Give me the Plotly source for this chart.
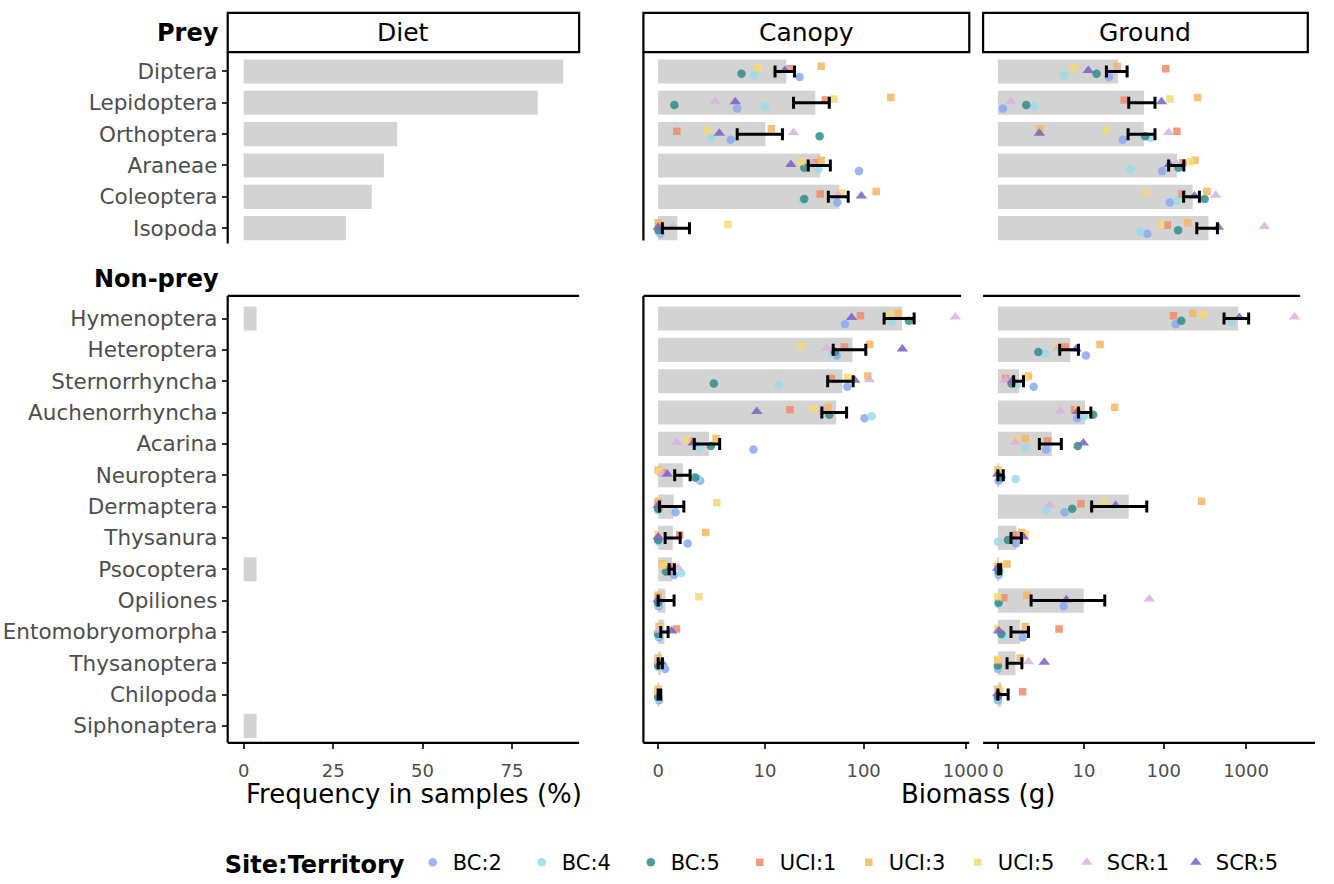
import numpy as np
import plotly.graph_objects as go

W, H = 1334, 884
FONT = "DejaVu Sans"

# ---------------- data ----------------
prey = ["Diptera", "Lepidoptera", "Orthoptera", "Araneae", "Coleoptera", "Isopoda"]
nonprey = ["Hymenoptera", "Heteroptera", "Sternorrhyncha", "Auchenorrhyncha", "Acarina",
           "Neuroptera", "Dermaptera", "Thysanura", "Psocoptera", "Opiliones",
           "Entomobryomorpha", "Thysanoptera", "Chilopoda", "Siphonaptera"]

diet_prey = [89.3, 82.2, 42.9, 39.2, 35.8, 28.6]
diet_nonprey = [3.6, None, None, None, None, None, None, None, 3.6, None, None, None, None, 3.6]

groups = ["BC:2", "BC:4", "BC:5", "UCI:1", "UCI:3", "UCI:5", "SCR:1", "SCR:5"]
group_colors = ["#86A8F2", "#97DCE9", "#2F8C86", "#EF8A6A", "#F4B562", "#F7D872", "#DAB0DE", "#7A5EC2"]
group_symbols = ["circle", "circle", "circle", "square", "square", "square", "triangle-up", "triangle-up"]
group_sizes = [8.5, 8.5, 8.5, 7.5, 7.5, 7.5, 10, 10]
group_offsets = [0.18, 0.12, 0.07, -0.09, -0.17, -0.12, -0.05, -0.03]

biomass_ticks = [0, 10, 100, 1000]
diet_ticks = [0, 25, 50, 75]

# Canopy, prey (grams)
canopy_prey_bar = [16.8, 33.1, 10.1, 37.1, 57.6, 0.54]
canopy_prey_lo = [12.8, 19.9, 4.9, 28.1, 44.7, 0.10]
canopy_prey_hi = [20.4, 45.7, 15.3, 46.8, 70.4, 1.02]
canopy_prey_pts = {
    "BC:2": [23.0, 4.9, 4.1, 90, 55, 0.05],
    "BC:4": [7.6, 10.0, 2.3, 35.7, 24.5, 0.01],
    "BC:5": [5.5, 0.44, 36.6, 25.6, 25.6, 0.01],
    "UCI:1": [18.2, 41.8, 0.52, 32.6, 37.1, 0.02],
    "UCI:3": [37.9, 185, 11.7, 37.9, 133, 0.0],
    "UCI:5": [8.4, 50.8, 2.06, 23.8, 60.6, 3.8],
    "SCR:1": [17, 2.6, 19.9, 31, 56, 0.38],
    "SCR:5": [16.2, 4.65, 2.95, 18.7, 95, 0.0],
}

# Ground, prey (grams)
ground_prey_bar = [27.2, 57.6, 57.1, 145, 226, 351]
ground_prey_lo = [19.5, 37.2, 36.5, 115, 175, 253]
ground_prey_hi = [35.5, 78.3, 78.3, 176, 272, 450]
ground_prey_pts = {
    "BC:2": [21.0, 0.15, 31.4, 96, 119, 63],
    "BC:4": [5.3, 1.76, 68.2, 39, 147, 51.6],
    "BC:5": [14.6, 1.20, 59.3, 152, 315, 150],
    "UCI:1": [106, 32.6, 145, 172, 168, 111],
    "UCI:3": [26.7, 259, 2.23, 241, 336, 197],
    "UCI:5": [7.3, 119, 19.5, 216, 61, 92],
    "SCR:1": [27.2, 0.44, 115, 143, 430, 1668],
    "SCR:5": [11.4, 94, 2.17, 117, 237, 463],
}

# Canopy, non-prey (grams)
canopy_np_bar = [238, 77.6, 61.7, 53.5, 2.13, 0.74, 0.42, 0.39, 0.37, 0.18, 0.15, 0.06, 0.01, None]
canopy_np_lo = [159, 50, 44, 38.5, 1.25, 0.45, 0.03, 0.17, 0.28, 0.0, 0.06, 0.0, 0.0, None]
canopy_np_hi = [313, 105, 78.8, 67.9, 2.98, 1.05, 0.78, 0.64, 0.44, 0.43, 0.25, 0.1, 0.06, None]
canopy_np_pts = {
    "BC:2": [65.4, 54, 69, 102, 7.5, 1.57, 0.48, 0.94, 0.43, 0.01, 0.02, 0.17, 0.02, None],
    "BC:4": [190, 49, 14.1, 120, 1.51, 1.45, 0.0, 0.01, 0.68, 0.0, 0.0, 0.0, 0.0, None],
    "BC:5": [278, 52, 2.49, 45.7, 2.27, 1.30, 0.0, 0.0, 0.19, 0.0, 0.0, 0.0, 0.0, None],
    "UCI:1": [93, 64.5, 47.9, 18.3, 1.14, 0.11, 0.0, 0.62, 0.3, 0.0, 0.51, 0.0, 0.0, None],
    "UCI:3": [220, 115, 110, 44.7, 2.67, 0.0, 0.0, 1.91, 0.1, 0.0, 0.02, 0.0, 0.0, None],
    "UCI:5": [179, 23.8, 69.5, 31.9, 0.9, 0.03, 2.73, 0.0, 0.12, 1.49, 0.05, 0.0, 0.0, None],
    "SCR:1": [790, 43, 114, 40, 0.51, 0.1, 0.0, 0.0, 0.56, 0.0, 0.0, 0.0, None, None],
    "SCR:5": [76, 240, 81.7, 8.16, 1.2, 0.23, 0.0, 0.0, 0.3, 0.0, 0.35, 0.08, None, None],
}

# Ground, non-prey (grams)
ground_np_bar = [802, 6.49, 0.80, 10.3, 3.49, 0.02, 37.2, 0.67, 0.01, 9.9, 0.86, 0.63, 0.1, None]
ground_np_lo = [541, 4.59, 0.55, 8.41, 2.17, 0.0, 12.6, 0.44, 0.02, 1.52, 0.44, 0.29, 0.0, None]
ground_np_hi = [1075, 8.41, 1.04, 12.3, 4.85, 0.16, 62.1, 0.92, 0.08, 18.6, 1.34, 0.95, 0.33, None]
ground_np_pts = {
    "BC:2": [140, 10.6, 1.71, 8.08, 2.84, 0.02, 5.41, 0.65, 0.02, 5.24, 1.01, 0.0, 0.0, None],
    "BC:4": [668, 2.70, 0.70, 10.1, 1.16, 0.64, 2.88, 0.0, 0.02, 0.02, 0.16, 0.0, 0.0, None],
    "BC:5": [164, 2.08, 0.46, 13.2, 8.24, 0.1, 6.91, 0.32, 0.02, 0.02, 0.1, 0.0, 0.0, None],
    "UCI:1": [132, 5.53, 0.24, 7.44, 2.98, 0.0, 9.13, 0.63, 0.0, 0.18, 4.49, 0.0, 0.99, None],
    "UCI:3": [226, 16.2, 1.34, 24.8, 1.14, 0.0, 290, 0.95, 0.29, 1.24, 1.14, 0.86, 0.0, None],
    "UCI:5": [303, 4.10, 1.14, 8.41, 0.66, 0.0, 18.2, 1.14, 0.05, 0.0, 0.0, 0.0, 0.05, None],
    "SCR:1": [3872, 4.24, 0.24, 4.69, 0.63, 0.0, 3.25, 0.86, 0.0, 66.9, 0.0, 1.34, 0.0, None],
    "SCR:5": [832, 7.83, 0.51, 8.24, 9.8, 0.0, 25.5, 1.04, 0.0, 5.71, 0.03, 2.64, 0.0, None],
}


# ---------------- helpers ----------------
def T(v):
    """log10(x + 1) transform used by the biomass axes."""
    return None if v is None else float(np.log10(v + 1.0))


def px(x):
    return x / W


def py(y):
    return 1 - y / H


BAR_W = 0.77
BAR_COLOR = "#D3D3D3"
TICK_COLOR = "#4D4D4D"

fig = go.Figure()

# panel geometry (pixels)
X_DIET = (231.0, 587.5)
X_CAN = (652.7, 983.3)
X_GRO = (997.3, 1326.7)
Y_TOP = (52.7, 249.5)
Y_BOT = (299.0, 750.5)

axes = {
    "1": (X_DIET, Y_TOP, [-4.47, 93.77], [5.6, -0.616]),
    "2": (X_CAN, Y_TOP, [-0.144, 3.035], [5.6, -0.616]),
    "3": (X_GRO, Y_TOP, [-0.179, 3.747], [5.6, -0.616]),
    "4": (X_DIET, Y_BOT, [-4.47, 93.77], [13.54, -0.72]),
    "5": (X_CAN, Y_BOT, [-0.144, 3.035], [13.54, -0.72]),
    "6": (X_GRO, Y_BOT, [-0.179, 3.747], [13.54, -0.72]),
}


def ax_ids(k):
    return ("x" if k == "1" else "x" + k), ("y" if k == "1" else "y" + k)


# Diet bars
for k, cats, vals in [("1", prey, diet_prey), ("4", nonprey, diet_nonprey)]:
    xa, ya = ax_ids(k)
    fig.add_trace(go.Bar(x=vals, y=list(range(len(cats))), orientation="h", width=BAR_W,
                         marker=dict(color=BAR_COLOR, line=dict(width=0)),
                         xaxis=xa, yaxis=ya, showlegend=False, hoverinfo="skip"))

panels = [
    ("2", prey, canopy_prey_bar, canopy_prey_lo, canopy_prey_hi, canopy_prey_pts),
    ("3", prey, ground_prey_bar, ground_prey_lo, ground_prey_hi, ground_prey_pts),
    ("5", nonprey, canopy_np_bar, canopy_np_lo, canopy_np_hi, canopy_np_pts),
    ("6", nonprey, ground_np_bar, ground_np_lo, ground_np_hi, ground_np_pts),
]

shown = set()
for k, cats, bar, lo, hi, pts in panels:
    xa, ya = ax_ids(k)
    idx = list(range(len(cats)))
    fig.add_trace(go.Bar(x=[T(v) for v in bar], y=idx, orientation="h", width=BAR_W,
                         marker=dict(color=BAR_COLOR, line=dict(width=0)),
                         xaxis=xa, yaxis=ya, showlegend=False, hoverinfo="skip"))
    for g, col, sym, sz, off in zip(groups, group_colors, group_symbols, group_sizes, group_offsets):
        vals = pts[g]
        xs = [T(v) for v in vals if v is not None]
        ys = [i + off for i, v in enumerate(vals) if v is not None]
        fig.add_trace(go.Scatter(x=xs, y=ys, mode="markers", name=g, legendgroup=g,
                                 showlegend=g not in shown,
                                 marker=dict(color=col, symbol=sym, size=sz, opacity=0.85,
                                             line=dict(width=0)),
                                 xaxis=xa, yaxis=ya, hoverinfo="skip"))
        shown.add(g)
    # error bars (lower / upper limits given in grams)
    ex, ey, eh = [], [], []
    for i, (a, b) in enumerate(zip(lo, hi)):
        if a is None or b is None:
            continue
        ta, tb = T(a), T(b)
        ex.append((ta + tb) / 2)
        eh.append((tb - ta) / 2)
        ey.append(i)
    fig.add_trace(go.Scatter(x=ex, y=ey, mode="markers",
                             marker=dict(size=1, color="rgba(0,0,0,0)"),
                             error_x=dict(type="data", array=eh, symmetric=True, color="black",
                                          thickness=3, width=6),
                             xaxis=xa, yaxis=ya, showlegend=False, hoverinfo="skip"))

# ---------------- axes ----------------
layout_axes = {}
for k, (xd, yd, xr, yr) in axes.items():
    xname = "xaxis" if k == "1" else "xaxis" + k
    yname = "yaxis" if k == "1" else "yaxis" + k
    xa, ya = ax_ids(k)
    bottom = k in ("4", "5", "6")
    xaxis = dict(domain=[px(xd[0]), px(xd[1])], range=xr, anchor=ya,
                 showgrid=False, zeroline=False, showline=False,
                 fixedrange=True, ticklabeloverflow="allow")
    if bottom:
        if k == "4":
            xaxis.update(tickvals=diet_ticks, ticktext=[str(t) for t in diet_ticks])
        else:
            xaxis.update(tickvals=[T(t) for t in biomass_ticks],
                         ticktext=[str(t) for t in biomass_ticks])
        xaxis.update(ticks="outside", ticklen=5, tickwidth=1.6, tickcolor="#333333",
                     showticklabels=True, ticklabelstandoff=7,
                     tickfont=dict(family=FONT, size=18, color=TICK_COLOR))
    else:
        xaxis.update(showticklabels=False, ticks="")
    cats = prey if k in ("1", "2", "3") else nonprey
    yaxis = dict(domain=[py(yd[1]), py(yd[0])], range=yr, anchor=xa,
                 showgrid=False, zeroline=False, showline=False, fixedrange=True)
    if k in ("1", "4"):
        yaxis.update(tickvals=list(range(len(cats))), ticktext=cats, ticks="outside",
                     ticklen=5, tickwidth=1.6, tickcolor="#333333",
                     tickfont=dict(family=FONT, size=21.5, color=TICK_COLOR))
    else:
        yaxis.update(showticklabels=False, ticks="")
    layout_axes[xname] = xaxis
    layout_axes[yname] = yaxis

# ---------------- shapes (axis lines, strips) ----------------
LW = 2.2
shapes = []


def line(x0, y0, x1, y1):
    shapes.append(dict(type="line", xref="paper", yref="paper",
                       x0=px(x0), y0=py(y0), x1=px(x1), y1=py(y1),
                       line=dict(color="black", width=LW)))


# top row left lines
line(X_DIET[0], Y_TOP[0], X_DIET[0], 246)
line(X_CAN[0], Y_TOP[0], X_CAN[0], 243)
# bottom row
for (xl, xr_top, xr_bot, left) in [(X_DIET[0], X_DIET[1], X_DIET[1], True),
                                   (X_CAN[0], 975, X_CAN[1], True),
                                   (X_GRO[0], 1319, 1334, False)]:
    line(xl, Y_BOT[0], xr_top, Y_BOT[0])
    line(xl, Y_BOT[1], xr_bot, Y_BOT[1])
    if left:
        line(xl, Y_BOT[0], xl, Y_BOT[1])

annotations = []
for (x0, x1), label in [(X_DIET, "Diet"), (X_CAN, "Canopy"), (X_GRO, "Ground")]:
    shapes.append(dict(type="rect", xref="paper", yref="paper",
                       x0=px(x0), x1=px(x1), y0=py(52.7), y1=py(13),
                       line=dict(color="black", width=LW), fillcolor="white"))
    annotations.append(dict(text=label, xref="paper", yref="paper",
                            x=px((x0 + x1) / 2), y=py(33), xanchor="center", yanchor="middle",
                            showarrow=False, font=dict(family=FONT, size=25, color="black")))

annotations += [
    dict(text="<b>Prey</b>", xref="paper", yref="paper", x=px(224), y=py(33),
         xanchor="right", yanchor="middle", showarrow=False,
         font=dict(family=FONT, size=24, color="black")),
    dict(text="<b>Non-prey</b>", xref="paper", yref="paper", x=px(224), y=py(282),
         xanchor="right", yanchor="middle", showarrow=False,
         font=dict(family=FONT, size=24, color="black")),
    dict(text="Frequency in samples (%)", xref="paper", yref="paper", x=px(420), y=py(802),
         xanchor="center", yanchor="middle", showarrow=False,
         font=dict(family=FONT, size=26, color="black")),
    dict(text="Biomass (g)", xref="paper", yref="paper", x=px(992), y=py(802),
         xanchor="center", yanchor="middle", showarrow=False,
         font=dict(family=FONT, size=26, color="black")),
]

fig.update_layout(
    width=W, height=H, autosize=False,
    margin=dict(l=0, r=0, t=0, b=0, pad=0),
    paper_bgcolor="white", plot_bgcolor="white",
    barmode="overlay", hovermode=False,
    shapes=shapes, annotations=annotations,
    font=dict(family=FONT, color="black"),
    legend=dict(orientation="h", x=px(226), y=py(872), xanchor="left", yanchor="middle",
                title=dict(text="<b>Site:Territory</b>", side="left",
                           font=dict(family=FONT, size=24, color="black")),
                font=dict(family=FONT, size=21, color="black"),
                entrywidth=64, entrywidthmode="pixels", itemsizing="trace",
                bgcolor="rgba(0,0,0,0)", tracegroupgap=0),
    **layout_axes,
)

fig.write_html("out.html")
